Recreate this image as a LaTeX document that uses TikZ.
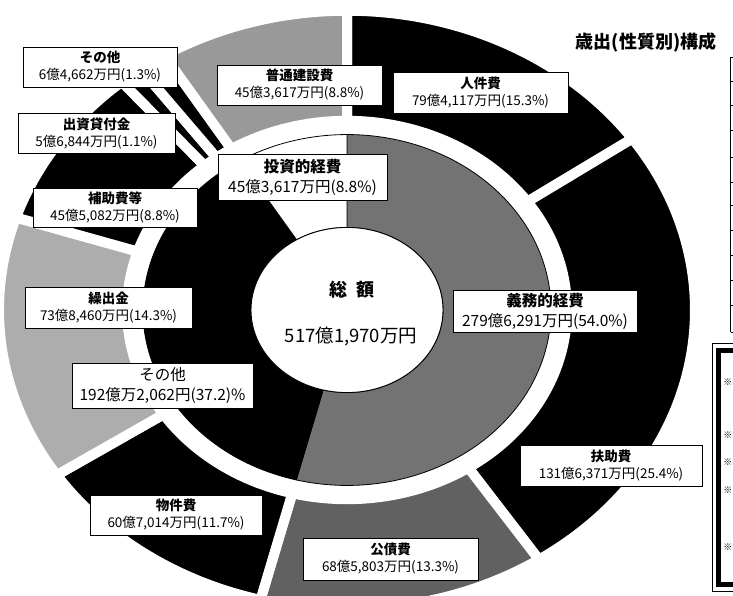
\documentclass[tikz,border=0pt]{standalone}
\usepackage{fontspec}
\setmainfont{Noto Sans CJK JP}
\newcommand\pieseg[5]{\filldraw[#5] (#1:#4) arc[start angle=#1, end angle=#2, radius=#4] -- (#2:#3) arc[start angle=#2, end angle=#1, radius=#3] -- cycle;}
\begin{document}
\begin{tikzpicture}[x=1pt,y=-1pt,
  lab/.style={draw=black, fill=white, line width=0.9pt, inner sep=0pt, align=center, font=\fontsize{13.5}{17}\selectfont},
  ilab/.style={lab, font=\fontsize{15.5}{20}\selectfont},
  outseg/.style={draw=white, line width=10pt, line join=miter},
  inseg/.style={draw=black, line width=0.8pt}]
\useasboundingbox (0,0) rectangle (733,596);
\clip (0,0) rectangle (733,596);
\fill[white] (0,0) rectangle (733,596);
% pie
\begin{scope}[shift={(347,310)}, yscale=-0.86]
  % outer ring
  \pieseg{90}{34.92}{220}{348}{outseg, fill=black}
  \pieseg{34.92}{-56.52}{220}{348}{outseg, fill=black}
  \pieseg{-56.52}{-104.4}{220}{348}{outseg, fill=black!62}
  \pieseg{-104.4}{-146.52}{220}{348}{outseg, fill=black}
  \pieseg{-146.52}{-198}{220}{348}{outseg, fill=black!32}
  \pieseg{-198}{-229.68}{220}{348}{outseg, fill=black}
  \pieseg{-229.68}{-233.64}{220}{348}{outseg, fill=black}
  \pieseg{-233.64}{-238.32}{220}{348}{outseg, fill=black}
  \pieseg{-238.32}{-270}{220}{348}{outseg, fill=black!40}
  % inner ring
  \pieseg{90}{-104.4}{96}{204}{inseg, fill=black!55}
  \pieseg{-104.4}{-238.32}{96}{204}{inseg, fill=black}
  \pieseg{-238.32}{-270}{96}{204}{inseg, fill=white}
  \filldraw[fill=white, draw=black, line width=0.9pt] (0,0) circle[radius=96];
\end{scope}
% centre texts
\node[font=\fontsize{18}{20}\selectfont\bfseries] (totalT) at (352,290) {総\enspace 額};
\node[font=\fontsize{18.5}{20}\selectfont] (totalV) at (351,337) {517億1,970万円};
% title
\node[font=\fontsize{18}{20}\selectfont\bfseries] (title) at (646,42) {歳出(性質別)構成};
% outer labels
\node[lab, minimum width=154, minimum height=40] (lSonota) at (100,67) {{\bfseries その他}\\6億4,662万円(1.3\%)};
\node[lab, minimum width=157, minimum height=40] (lShusshi) at (96.5,133) {{\bfseries 出資貸付金}\\5億6,844万円(1.1\%)};
\node[lab, minimum width=164, minimum height=39] (lHojo) at (115,207.5) {{\bfseries 補助費等}\\45億5,082万円(8.8\%)};
\node[lab, minimum width=167, minimum height=41] (lKuride) at (108.5,307.5) {{\bfseries 繰出金}\\73億8,460万円(14.3\%)};
\node[lab, minimum width=172, minimum height=40] (lButsu) at (176,515) {{\bfseries 物件費}\\60億7,014万円(11.7\%)};
\node[lab, minimum width=175, minimum height=42] (lKousai) at (390.5,559) {{\bfseries 公債費}\\68億5,803万円(13.3\%)};
\node[lab, minimum width=182, minimum height=41] (lFujo) at (611,465.5) {{\bfseries 扶助費}\\131億6,371万円(25.4\%)};
\node[lab, minimum width=175, minimum height=41] (lJinken) at (480.5,92.5) {{\bfseries 人件費}\\79億4,117万円(15.3\%)};
\node[lab, minimum width=165, minimum height=40] (lFutsu) at (299.5,85) {{\bfseries 普通建設費}\\45億3,617万円(8.8\%)};
% inner labels
\node[ilab, minimum width=169, minimum height=46] (lToushi) at (302.5,177) {{\bfseries 投資的経費}\\45億3,617万円(8.8\%)};
\node[ilab, minimum width=184, minimum height=42] (lGimu) at (545,311) {{\bfseries 義務的経費}\\279億6,291万円(54.0\%)};
\node[ilab, minimum width=181, minimum height=45] (lSonotaIn) at (162.5,385.5) {その他\\192億万2,062円(37.2)\%};
% table at right edge
\draw[line width=0.9pt] (730.5,57) -- (730.5,332);
\foreach \yy in {57,81,105,130,157,182,205,230,255,280,305,332}
  \draw[line width=0.9pt] (730.5,\yy) -- (740,\yy);
% legend box
\draw[line width=0.8pt] (712,343) rectangle (745,591);
\draw[line width=5pt] (718.5,350) rectangle (745,584);
\foreach \yy/\nm in {382/a,435/b,462/c,490/d,547/e}
  \node[anchor=east, inner sep=0pt, font=\fontsize{9}{10}\selectfont\bfseries] (kome\nm) at (732.5,\yy) {※};
\end{tikzpicture}
\end{document}
